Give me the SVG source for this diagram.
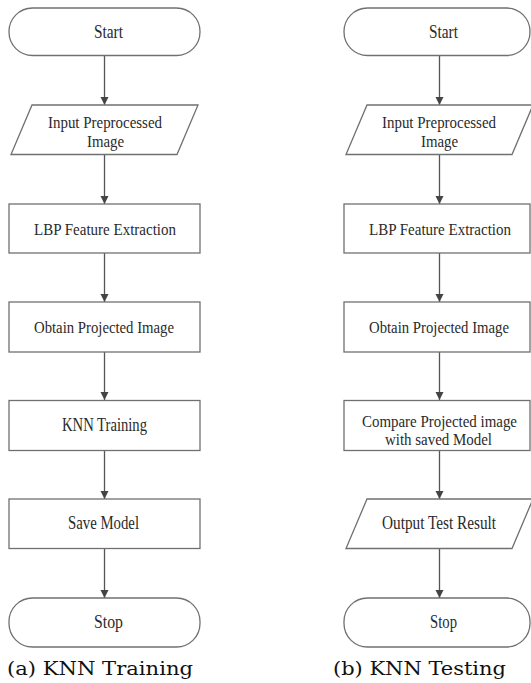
<svg xmlns="http://www.w3.org/2000/svg" width="531" height="683" viewBox="0 0 531 683">
<defs>
<marker id="ah" viewBox="0 0 8 10" refX="8" refY="5" markerWidth="8" markerHeight="10" markerUnits="userSpaceOnUse" orient="auto">
<path d="M0,1 L8,5 L0,9 Z" fill="#444"/>
</marker>
<style>
.shape{fill:#fff;stroke:#707070;stroke-width:1.3}
.lbl{font-family:"Liberation Serif","Times New Roman",serif;font-size:18px;fill:#2a2a2a}
.lbl2{font-family:"Liberation Serif","Times New Roman",serif;font-size:16px;fill:#2a2a2a}
.lbl3{font-family:"Liberation Serif","Times New Roman",serif;font-size:17px;fill:#2a2a2a}
.cap{font-family:"DejaVu Serif","Liberation Serif",serif;font-size:19px;fill:#111}
.edge{stroke:#555;stroke-width:1.3;fill:none;marker-end:url(#ah)}
</style>
</defs>
<rect width="531" height="683" fill="#fff"/>
<g id="connectors">
<line class="edge" x1="104.5" y1="56" x2="104.5" y2="105"/>
<line class="edge" x1="104.5" y1="155" x2="104.5" y2="204"/>
<line class="edge" x1="104.5" y1="253" x2="104.5" y2="302"/>
<line class="edge" x1="104.5" y1="352" x2="104.5" y2="400"/>
<line class="edge" x1="104.5" y1="450" x2="104.5" y2="499"/>
<line class="edge" x1="104.5" y1="549" x2="104.5" y2="598"/>
<line class="edge" x1="439.5" y1="56" x2="439.5" y2="105"/>
<line class="edge" x1="439.5" y1="155" x2="439.5" y2="204"/>
<line class="edge" x1="439.5" y1="253" x2="439.5" y2="302"/>
<line class="edge" x1="439.5" y1="352" x2="439.5" y2="400"/>
<line class="edge" x1="439.5" y1="450" x2="439.5" y2="499"/>
<line class="edge" x1="439.5" y1="549" x2="439.5" y2="598"/>
</g>
<g id="a-start"><rect class="shape" x="9" y="8" width="191" height="47.5" rx="23.5"/><text class="lbl" x="94" y="38" textLength="29" lengthAdjust="spacingAndGlyphs">Start</text></g>
<g id="a-input"><polygon class="shape" points="32,105 198,105 177,154.5 11,154.5"/><text class="lbl2" x="48" y="128" textLength="114" lengthAdjust="spacingAndGlyphs">Input Preprocessed</text><text class="lbl2" x="87" y="147" textLength="37" lengthAdjust="spacingAndGlyphs">Image</text></g>
<g id="a-lbp"><rect class="shape" x="9" y="204" width="191" height="49"/><text class="lbl3" x="105" y="235" text-anchor="middle" textLength="142" lengthAdjust="spacingAndGlyphs">LBP Feature Extraction</text></g>
<g id="a-obtain"><rect class="shape" x="9" y="302" width="191" height="50"/><text class="lbl3" x="104" y="333" text-anchor="middle" textLength="140" lengthAdjust="spacingAndGlyphs">Obtain Projected Image</text></g>
<g id="a-knn"><rect class="shape" x="9" y="400.5" width="191" height="50"/><text class="lbl" x="62" y="431" textLength="85" lengthAdjust="spacingAndGlyphs">KNN Training</text></g>
<g id="a-save"><rect class="shape" x="9" y="499" width="191" height="49.5"/><text class="lbl" x="68" y="529" textLength="71" lengthAdjust="spacingAndGlyphs">Save Model</text></g>
<g id="a-stop"><rect class="shape" x="9" y="598" width="191" height="49" rx="23.5"/><text class="lbl" x="94" y="628" textLength="29" lengthAdjust="spacingAndGlyphs">Stop</text></g>
<g id="b-start"><rect class="shape" x="344" y="8" width="186" height="47.5" rx="23.5"/><text class="lbl" x="429" y="38" textLength="29" lengthAdjust="spacingAndGlyphs">Start</text></g>
<g id="b-input"><polygon class="shape" points="367,105 533,105 512,154.5 346,154.5"/><text class="lbl2" x="382" y="128" textLength="114" lengthAdjust="spacingAndGlyphs">Input Preprocessed</text><text class="lbl2" x="421" y="147" textLength="37" lengthAdjust="spacingAndGlyphs">Image</text></g>
<g id="b-lbp"><rect class="shape" x="344" y="204" width="186" height="49"/><text class="lbl3" x="440" y="235" text-anchor="middle" textLength="142" lengthAdjust="spacingAndGlyphs">LBP Feature Extraction</text></g>
<g id="b-obtain"><rect class="shape" x="344" y="302" width="186" height="50"/><text class="lbl3" x="439" y="333" text-anchor="middle" textLength="140" lengthAdjust="spacingAndGlyphs">Obtain Projected Image</text></g>
<g id="b-compare"><rect class="shape" x="344" y="400.5" width="186" height="50"/><text class="lbl2" x="362" y="427" textLength="155" lengthAdjust="spacingAndGlyphs">Compare Projected image</text><text class="lbl2" x="385" y="445" textLength="107" lengthAdjust="spacingAndGlyphs">with saved Model</text></g>
<g id="b-output"><polygon class="shape" points="367,499 533,499 512,548.5 346,548.5"/><text class="lbl" x="382" y="529" textLength="114" lengthAdjust="spacingAndGlyphs">Output Test Result</text></g>
<g id="b-stop"><rect class="shape" x="344" y="598" width="186" height="49" rx="23.5"/><text class="lbl" x="430" y="628" textLength="27" lengthAdjust="spacingAndGlyphs">Stop</text></g>
<text class="cap" x="7" y="675" textLength="186" lengthAdjust="spacingAndGlyphs">(a) KNN Training</text>
<text class="cap" x="333" y="675" textLength="173" lengthAdjust="spacingAndGlyphs">(b) KNN Testing</text>
</svg>
